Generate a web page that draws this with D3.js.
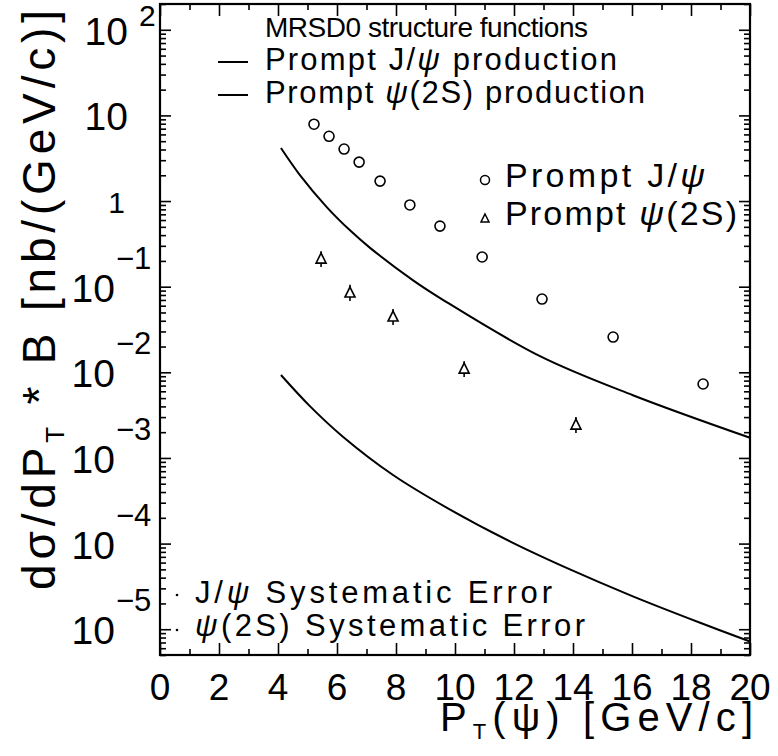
<!DOCTYPE html>
<html><head><meta charset="utf-8">
<script src="https://cdn.jsdelivr.net/npm/d3@7"></script>
<style>
body{margin:0;background:#fff}
svg{display:block}
text{font-family:"Liberation Sans",Arial,sans-serif;fill:#000}
</style>
</head><body>
<svg id="c" width="778" height="756"></svg>
<script>
// ---------- data ----------
const xTickValues = [0,2,4,6,8,10,12,14,16,18,20];
const xMinorTicks = [1,3,5,7,9,11,13,15,17,19];
const yDecades = [2,1,0,-1,-2,-3,-4,-5];

// Prompt J/psi measured points
const jpsiPt  = [5.22,5.73,6.24,6.75,7.46,8.47,9.49,10.92,12.95,15.36,18.41];
const jpsiVal = [7.9,5.7,4.05,2.85,1.71,0.90,0.51,0.222,0.0717,0.0258,0.0073];

// Prompt psi(2S) measured points with error bars
const psi2sPt  = [5.46,6.44,7.90,10.31,14.10];
const psi2sVal = [0.210,0.0843,0.0442,0.0109,0.00242];
const psi2sLo  = [0.170,0.068,0.0357,0.0088,0.00195];
const psi2sHi  = [0.260,0.105,0.055,0.0135,0.0030];

// Theory curves (MRSD0)
const jpsiThPt  = [4.1,4.75,5.66,6.44,7.12,8.58,9.59,12.88,16.03,20.0];
const jpsiThVal = [4.16,1.995,0.845,0.455,0.284,0.1186,0.0703,0.01545,0.0054,0.00172];
const psi2sThPt  = [4.1,5.08,6.20,7.90,9.73,11.86,13.80,16.03,18.31,20.0];
const psi2sThVal = [9.3e-3,4.03e-3,1.77e-3,6.32e-4,2.61e-4,1.06e-4,5.16e-5,2.42e-5,1.19e-5,7.2e-6];

// Texts
const topLegendTitle = "MRSD0 structure functions";
const topLegend = [ [["Prompt J/",""],["ψ","i"],[" production",""]],
                    [["Prompt ",""],["ψ","i"],["(2S) production",""]] ];
const markerLegend = [ [["Prompt J/",""],["ψ","i"]],
                       [["Prompt ",""],["ψ","i"],["(2S)",""]] ];
const sysLegend = [ [["J/",""],["ψ","i"],[" Systematic Error",""]],
                    [["ψ","i"],["(2S) Systematic Error",""]] ];

// ---------- layout ----------
const svg = d3.select("#c");
const L=160, R=750, T=4, B=655;
const x = d3.scaleLinear().domain([0,20]).range([L,R]);
const y = d3.scaleLog().domain([5e-6,200]).range([B,T]);

function addParts(sel, parts){
  parts.forEach(p=>{
    const t = sel.append("tspan").text(p[0]);
    if(p[1]==="i") t.attr("font-style","italic");
  });
  return sel;
}

// ---------- axes / ticks ----------
const majorY = yDecades.map(e=>Math.pow(10,e));
const minorY = y.ticks().filter(v=>Math.abs(Math.log10(v)-Math.round(Math.log10(v)))>1e-6);

function styleAxis(g){ g.select(".domain").remove(); g.selectAll("line").attr("stroke","#000").attr("stroke-width",1.6); g.selectAll("text").remove(); }

svg.append("g").attr("transform",`translate(0,${B})`).call(d3.axisBottom(x).tickValues(xTickValues).tickSize(-12)).call(styleAxis);
svg.append("g").attr("transform",`translate(0,${B})`).call(d3.axisBottom(x).tickValues(xMinorTicks).tickSize(-6)).call(styleAxis);
svg.append("g").attr("transform",`translate(0,${T})`).call(d3.axisTop(x).tickValues(xTickValues).tickSize(-12)).call(styleAxis);
svg.append("g").attr("transform",`translate(0,${T})`).call(d3.axisTop(x).tickValues(xMinorTicks).tickSize(-6)).call(styleAxis);
svg.append("g").attr("transform",`translate(${L},0)`).call(d3.axisLeft(y).tickValues(majorY).tickSize(-11)).call(styleAxis);
svg.append("g").attr("transform",`translate(${L},0)`).call(d3.axisLeft(y).tickValues(minorY).tickSize(-6)).call(styleAxis);
svg.append("g").attr("transform",`translate(${R},0)`).call(d3.axisRight(y).tickValues(majorY).tickSize(-11)).call(styleAxis);
svg.append("g").attr("transform",`translate(${R},0)`).call(d3.axisRight(y).tickValues(minorY).tickSize(-6)).call(styleAxis);

svg.append("rect").attr("x",L).attr("y",T).attr("width",R-L).attr("height",B-T)
  .attr("fill","none").attr("stroke","#000").attr("stroke-width",2.2);

// x tick labels
svg.append("g").selectAll("text").data(xTickValues).join("text")
  .attr("x",d=>x(d)).attr("y",700).attr("text-anchor","middle")
  .attr("font-size",37).text(d=>d);

// y tick labels
const yl = svg.append("g");
yDecades.forEach(e=>{
  const ty = y(Math.pow(10,e));
  if(e===0){
    yl.append("text").attr("x",125).attr("y",ty+12).attr("text-anchor","end").attr("font-size",30).text("1");
  } else if(e>0){
    yl.append("text").attr("x",128).attr("y",ty+15).attr("text-anchor","end").attr("font-size",39).text("10");
    if(e>1) yl.append("text").attr("x",139).attr("y",ty-4).attr("font-size",30).text(String(e));
  } else {
    yl.append("text").attr("x",115).attr("y",ty+15).attr("text-anchor","end").attr("font-size",39).text("10");
    yl.append("text").attr("x",116).attr("y",ty-18).attr("font-size",31).text("\u2212"+Math.abs(e));
  }
});

// axis titles
const xt = svg.append("text").attr("x",440).attr("y",731).attr("font-size",40)
  .attr("textLength",313).attr("lengthAdjust","spacing");
xt.append("tspan").text("P");
xt.append("tspan").attr("font-size",22).attr("dy",8).text("T");
xt.append("tspan").attr("dy",-8).text("(");
xt.append("tspan").text("ψ");
xt.append("tspan").text(") [GeV/c]");

const yt = svg.append("text").attr("transform","translate(55,300) rotate(-90)")
  .attr("text-anchor","middle").attr("font-size",46)
  .attr("textLength",580).attr("lengthAdjust","spacing");
yt.append("tspan").text("dσ/dP");
yt.append("tspan").attr("font-size",26).attr("dy",9).text("T");
yt.append("tspan").attr("dy",-9).text(" * B [nb/(GeV/c)]");

// ---------- curves ----------
const line = d3.line().x(d=>x(d[0])).y(d=>y(d[1])).curve(d3.curveCatmullRom.alpha(0.5));
svg.append("path").datum(d3.zip(jpsiThPt,jpsiThVal)).attr("d",line)
  .attr("fill","none").attr("stroke","#000").attr("stroke-width",2);
svg.append("path").datum(d3.zip(psi2sThPt,psi2sThVal)).attr("d",line)
  .attr("fill","none").attr("stroke","#000").attr("stroke-width",2);

// ---------- points ----------
svg.append("g").selectAll("circle").data(d3.zip(jpsiPt,jpsiVal)).join("circle")
  .attr("cx",d=>x(d[0])).attr("cy",d=>y(d[1])).attr("r",5)
  .attr("fill","#fff").attr("stroke","#000").attr("stroke-width",1.6);

const triPath = "M0,-6L5,4L-5,4Z";
const psiData = psi2sPt.map((p,i)=>({p, v:psi2sVal[i], lo:psi2sLo[i], hi:psi2sHi[i]}));
const tg = svg.append("g");
tg.selectAll("line").data(psiData).join("line")
  .attr("x1",d=>x(d.p)).attr("x2",d=>x(d.p)).attr("y1",d=>y(d.lo)).attr("y2",d=>y(d.hi))
  .attr("stroke","#000").attr("stroke-width",1.6);
tg.selectAll("path").data(psiData).join("path")
  .attr("d",triPath).attr("transform",d=>`translate(${x(d.p)},${y(d.v)})`)
  .attr("fill","#fff").attr("stroke","#000").attr("stroke-width",1.6);

// ---------- legends ----------
svg.append("text").attr("x",265).attr("y",37).attr("font-size",28)
  .attr("textLength",323).attr("lengthAdjust","spacing").text(topLegendTitle);
const topLens=[352,380], topBase=[70,103], topLineY=[62,95];
topLegend.forEach((parts,i)=>{
  svg.append("line").attr("x1",218).attr("x2",248).attr("y1",topLineY[i]).attr("y2",topLineY[i])
    .attr("stroke","#000").attr("stroke-width",2);
  addParts(svg.append("text").attr("x",265).attr("y",topBase[i]).attr("font-size",31)
    .attr("textLength",topLens[i]).attr("lengthAdjust","spacing"), parts);
});

svg.append("circle").attr("cx",485).attr("cy",180).attr("r",4.5)
  .attr("fill","#fff").attr("stroke","#000").attr("stroke-width",1.5);
svg.append("path").attr("d","M0,-5L4,3L-4,3Z").attr("transform","translate(485,219)")
  .attr("fill","#fff").attr("stroke","#000").attr("stroke-width",1.5);
const mkLens=[200,232], mkBase=[187,225];
markerLegend.forEach((parts,i)=>{
  addParts(svg.append("text").attr("x",505).attr("y",mkBase[i]).attr("font-size",34)
    .attr("textLength",mkLens[i]).attr("lengthAdjust","spacing"), parts);
});

const sysLens=[357,390], sysBase=[603,636], sysDotY=[595,630];
sysLegend.forEach((parts,i)=>{
  svg.append("circle").attr("cx",177).attr("cy",sysDotY[i]).attr("r",1.3).attr("fill","#000");
  addParts(svg.append("text").attr("x",195).attr("y",sysBase[i]).attr("font-size",31)
    .attr("textLength",sysLens[i]).attr("lengthAdjust","spacing"), parts);
});
</script>
</body></html>
